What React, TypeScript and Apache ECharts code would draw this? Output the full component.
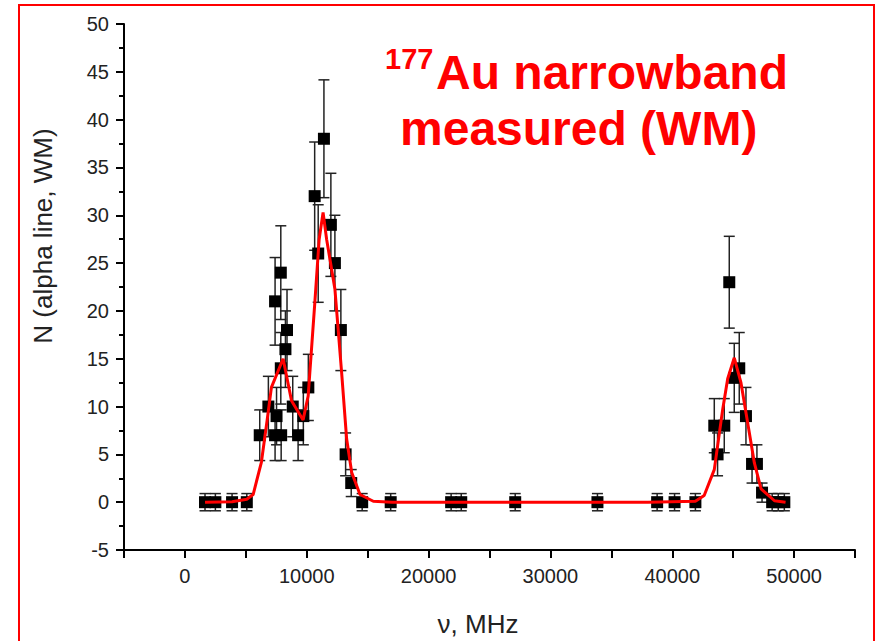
import React, { useEffect, useRef } from "react";
import * as echarts from "echarts";

// Measured points: frequency (MHz), counts N, error bar half-length
const freqs = [
  1650, 2500, 3870, 5080,
  6140, 6850, 7400, 7400, 7520, 7870, 7870, 7900, 8250, 8380, 8850, 9290, 9720, 10130,
  10650, 10940, 11410, 11980, 12310, 12800, 13190, 13650, 14550,
  16890, 21850, 22680, 27110, 33860, 38760, 40190, 41900,
  43450, 43720, 44270, 44680, 45090, 45500, 46050, 46550, 46950, 47370, 48200, 48700, 49200,
];
const counts = [
  0, 0, 0, 0,
  7, 10, 7, 21, 9, 24, 14, 7, 16, 18, 10, 7, 9, 12,
  32, 26, 38, 29, 25, 18, 5, 2, 0,
  0, 0, 0, 0, 0, 0, 0, 0,
  8, 5, 8, 23, 13, 14, 9, 4, 4, 1, 0, 0, 0,
];
const errs = [
  0.9, 0.9, 0.9, 0.9,
  2.65, 3.16, 2.65, 4.58, 3.0, 4.9, 3.74, 2.65, 4.0, 4.24, 3.16, 2.65, 3.0, 3.46,
  5.66, 5.1, 6.16, 5.39, 5.0, 4.24, 2.24, 1.41, 0.9,
  0.9, 0.9, 0.9, 0.9, 0.9, 0.9, 0.9, 0.9,
  2.83, 2.24, 2.83, 4.8, 3.61, 3.74, 3.0, 2.0, 2.0, 1.0, 0.9, 0.9, 0.9,
];

// Fitted curve (red)
const fitX = [
  1650, 3870, 5080, 5600, 6280, 6740, 7100, 8060, 8750, 9700, 10115, 10670, 11020, 11340,
  11630, 12310, 12860, 13275, 13690, 14370, 15460, 17000, 22000, 30000, 38000, 41900,
  42620, 43450, 44140, 44550, 45090, 45640, 46190, 46740, 47290, 48390, 49300,
];
const fitY = [
  0, 0.05, 0.3, 0.8, 4.2, 8.5, 12, 15, 10.6, 8.6, 11.1, 21, 27.5, 30.3,
  27.5, 22.3, 13.6, 6.6, 3.1, 0.8, 0.1, 0, 0, 0, 0, 0.1,
  0.7, 3.4, 9.7, 12.9, 15.1, 12.5, 8.3, 4.1, 1.4, 0.15, 0,
];

const xAxisTitle = "ν, MHz";
const yAxisTitle = "N (alpha line, WM)";

const FONT = "'Liberation Sans', Arial, sans-serif";

export default function App() {
  const ref = useRef<HTMLDivElement>(null);
  useEffect(() => {
    if (!ref.current) return;
    const chart = echarts.init(ref.current, undefined, { renderer: "svg" });
    const pts = freqs.map((f, i) => [f, counts[i], errs[i]]);
    const fit = fitX.map((f, i) => [f, fitY[i]]);
    chart.setOption({
      animation: false,
      textStyle: { fontFamily: FONT },
      grid: {
        left: 124,
        right: 24,
        top: 24,
        bottom: 91,
        containLabel: false,
        outerBoundsMode: "none",
      },
      xAxis: {
        type: "value",
        min: -5000,
        max: 55000,
        interval: 5000,
        axisLine: { show: true, onZero: false, lineStyle: { color: "#000", width: 2 } },
        axisTick: { show: true, inside: false, length: 8, lineStyle: { color: "#000", width: 2 } },
        axisLabel: {
          formatter: (v: number) => (v % 10000 === 0 ? String(v) : ""),
          fontSize: 20,
          color: "#222",
          margin: 16,
          fontFamily: FONT,
        },
        splitLine: { show: false },
      },
      yAxis: {
        type: "value",
        min: -5,
        max: 50,
        interval: 5,
        axisLine: { show: true, onZero: false, lineStyle: { color: "#000", width: 2 } },
        axisTick: { show: true, inside: false, length: 8, lineStyle: { color: "#000", width: 2 } },
        minorTick: { show: true, splitNumber: 2, length: 5, lineStyle: { color: "#000", width: 2 } },
        axisLabel: { fontSize: 20, color: "#222", margin: 15, fontFamily: FONT },
        splitLine: { show: false },
      },
      graphic: [
        {
          type: "rect",
          shape: { x: 19, y: 5, width: 855, height: 700 },
          style: { fill: "none", stroke: "#ff0000", lineWidth: 2 },
          silent: true,
        },
        {
          type: "text",
          x: 43,
          y: 236,
          rotation: Math.PI / 2,
          style: {
            text: yAxisTitle,
            fill: "#222",
            font: `26px ${FONT}`,
            align: "center",
            verticalAlign: "middle",
          },
        },
        {
          type: "text",
          x: 478,
          y: 624,
          style: {
            text: xAxisTitle,
            fill: "#222",
            font: `26px ${FONT}`,
            align: "center",
            verticalAlign: "middle",
          },
        },
        {
          type: "text",
          x: 385,
          y: 44,
          style: { text: "177", fill: "#ff0000", font: `bold 29px ${FONT}` },
        },
        {
          type: "text",
          x: 436,
          y: 48,
          style: { text: "Au narrowband", fill: "#ff0000", font: `bold 48px ${FONT}` },
        },
        {
          type: "text",
          x: 400,
          y: 104,
          style: { text: "measured (WM)", fill: "#ff0000", font: `bold 48px ${FONT}` },
        },
      ],
      series: [
        {
          type: "custom",
          name: "errors",
          z: 2,
          renderItem: (params: any, api: any) => {
            const x = api.value(0);
            const y = api.value(1);
            const e = api.value(2);
            const top = api.coord([x, y + e]);
            const bot = api.coord([x, y - e]);
            const hw = 5.5;
            const st = { stroke: "#222", lineWidth: 1.5 };
            return {
              type: "group",
              children: [
                { type: "line", shape: { x1: top[0], y1: top[1], x2: bot[0], y2: bot[1] }, style: st },
                { type: "line", shape: { x1: top[0] - hw, y1: top[1], x2: top[0] + hw, y2: top[1] }, style: st },
                { type: "line", shape: { x1: bot[0] - hw, y1: bot[1], x2: bot[0] + hw, y2: bot[1] }, style: st },
              ],
            };
          },
          encode: { x: 0, y: 1 },
          data: pts,
        },
        {
          type: "scatter",
          name: "data",
          z: 3,
          symbol: "rect",
          symbolSize: 12,
          itemStyle: { color: "#000", opacity: 1 },
          data: pts.map((p) => [p[0], p[1]]),
        },
        {
          type: "line",
          name: "fit",
          z: 4,
          showSymbol: false,
          symbol: "none",
          lineStyle: { color: "#ff0000", width: 3 },
          data: fit,
        },
      ],
    });
    return () => chart.dispose();
  }, []);
  return (
    <div
      ref={ref}
      style={{ position: "fixed", left: 0, top: 0, width: 879, height: 641, background: "#fff" }}
    />
  );
}
